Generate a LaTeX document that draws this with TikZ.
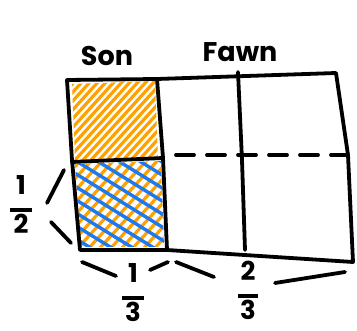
\documentclass[tikz,border=0pt]{standalone}
\usepackage{fontspec}
\setmainfont{Poppins}
\definecolor{hOrange}{HTML}{FFA200}
\definecolor{hBlue}{HTML}{1E78EE}
\newcommand{\myfrac}[3]{\begin{tabular}{@{}c@{}}#1\\[-10pt]\rule{#3}{4pt}\\[-7pt]#2\end{tabular}}
\tikzset{
  ink/.style={line width=3.8pt, line cap=round, line join=round, black},
  orangehatch/.style={line width=3.2pt, line cap=round, hOrange},
  bluehatch/.style={line width=3.4pt, line cap=round, hBlue},
  label/.style={inner sep=0pt, font=\bfseries\fontsize{27}{29}\selectfont},
  fraclabel/.style={inner sep=0pt, font=\bfseries\fontsize{26}{28}\selectfont},
}
\begin{document}
\begin{tikzpicture}[x=1pt,y=1pt,yscale=-1]
\useasboundingbox (0,0) rectangle (357,331);
% hatching top-left cell
\begin{scope}
\clip (72,84) -- (155,81) -- (158,158) -- (75,160) -- cycle;
\foreach \x in {-120,-112,...,180} \draw[orangehatch] (\x,260) -- (\x+173,70);
\end{scope}
% hatching bottom-left cell
\begin{scope}
\clip (75,164) -- (161,161) -- (164,247) -- (81,247) -- cycle;
\foreach \x in {-120,-109,...,180} \draw[orangehatch] (\x,260) -- (\x+173,70);
\foreach \y in {60,73,...,260} \draw[bluehatch] (60,\y) -- (180,\y+74);
\end{scope}
% frame
\draw[ink] (67,80) -- (157,79) -- (336,73) -- (348,155) -- (353,262) -- (167,250) -- (80,250) -- (72,160) -- cycle;
\draw[ink] (157,79) -- (163,158) -- (167,250);
\draw[ink] (72,162) -- (163,158);
\draw[ink] (238,72) -- (242,160) -- (245,250);
\draw[ink, dash pattern=on 18pt off 13pt] (176,155) -- (348,155);
% labels
\node[label] (son) at (107,56) {Son};
\node[label] (fawn) at (240,52) {Fawn};
\node[fraclabel] (half) at (21,208) {\myfrac{1}{2}{22pt}};
\node[fraclabel] (third) at (133,296) {\myfrac{1}{3}{22pt}};
\node[fraclabel] (twothirds) at (248,294) {\myfrac{2}{3}{20pt}};
% brackets
\draw[ink] (47,203) -- (64,170);
\draw[ink] (51,222) -- (71,243);
\draw[ink] (82,262) -- (116,276);
\draw[ink] (150,270) -- (168,262);
\draw[ink] (176,262) -- (214,277);
\draw[ink] (275,283) -- (345,272);
\end{tikzpicture}
\end{document}
